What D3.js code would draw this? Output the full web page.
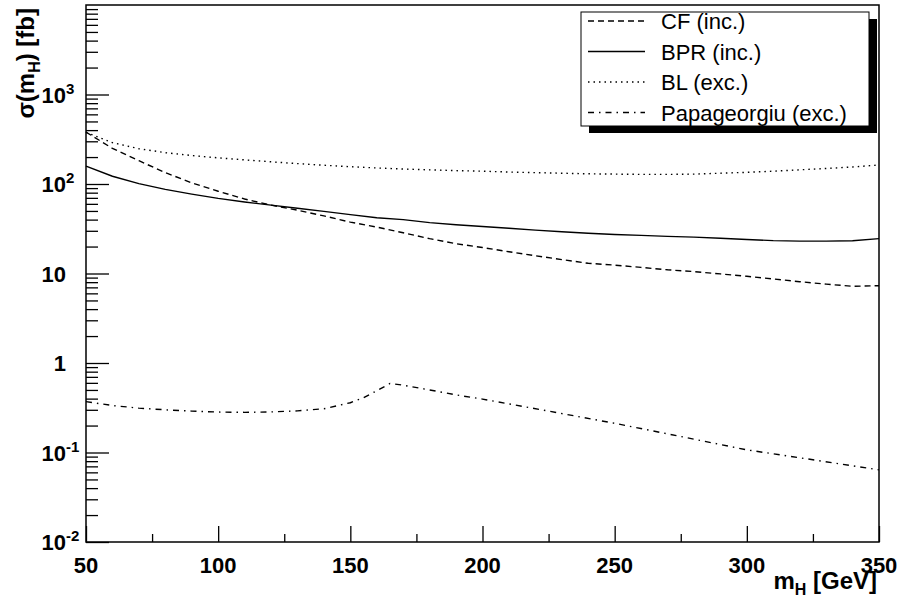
<!DOCTYPE html>
<html>
<head>
<meta charset="utf-8">
<script src="https://cdn.jsdelivr.net/npm/d3@7"></script>
<style>
  body { margin: 0; background: #fff; }
  text { font-family: "Liberation Sans", Arial, sans-serif; }
</style>
</head>
<body>
<div id="chart-area"></div>
<script>

//**************** Data *****************//

let mass = [50, 60, 70, 80, 90, 100, 110, 120, 130, 140, 150, 160, 170, 180, 190, 200,
	210, 220, 230, 240, 250, 260, 270, 280, 290, 300, 310, 320, 330, 340, 350];

let cfInc = [380, 250, 182, 134, 103, 83, 68, 58, 51, 44, 37.5, 33, 28.5, 24.5, 21.5, 19.5,
	17.5, 15.8, 14.3, 13.0, 12.4, 11.7, 11.0, 10.5, 9.9, 9.3, 8.7, 8.1, 7.6, 7.2, 7.3];

let bprInc = [158, 122, 101, 87, 77, 69, 63, 58, 53.5, 49.5, 45.5, 42, 40, 37, 35, 33.5,
	32, 30.5, 29.3, 28.2, 27.3, 26.7, 26, 25.5, 24.8, 24, 23.3, 23, 23, 23.2, 24.5];

let blExc = [378, 290, 248, 224, 208, 196, 186, 177, 169, 162, 156, 151, 147, 144, 141, 139,
	136, 134, 132, 130, 129, 128, 128, 129, 132, 135, 139, 144, 149, 155, 163];

let papaMass = [50, 60, 70, 80, 90, 100, 110, 120, 130, 140, 150, 155, 160, 165, 170, 180,
	190, 200, 225, 250, 275, 300, 325, 350];
let papaExc = [0.37, 0.335, 0.313, 0.3, 0.29, 0.283, 0.281, 0.284, 0.292, 0.308, 0.36, 0.41,
	0.49, 0.59, 0.565, 0.5, 0.44, 0.395, 0.29, 0.212, 0.151, 0.107, 0.083, 0.064];

let seriesNames = ['CF (inc.)', 'BPR (inc.)', 'BL (exc.)', 'Papageorgiu (exc.)'];
let xTickValues = [50, 100, 150, 200, 250, 300, 350];
let yExponents = [-2, -1, 0, 1, 2, 3];


//**************** Canvas *****************//

let W = 902, H = 598;
let frame = { left: 86, right: 879, top: 5, bottom: 542 };

let svg = d3.select('#chart-area').append('svg')
	.attr('width', W)
	.attr('height', H);


//**************** Scales & Axes *****************//

let x = d3.scaleLinear()
	.domain([50, 350])
	.range([frame.left, frame.right]);

let y = d3.scaleLog()
	.domain([0.01, 10000])
	.range([frame.bottom, frame.top]);

// X axis ticks (inward)
let xMinor = d3.range(75, 350, 50);
svg.append('g')
	.attr('transform', 'translate(0, ' + frame.bottom + ')')
	.call(d3.axisBottom(x).tickValues(xTickValues).tickSize(-16).tickFormat(''))
	.call(g => g.select('.domain').remove())
	.selectAll('line').attr('stroke', '#000').attr('stroke-width', 1.3);

svg.append('g')
	.attr('transform', 'translate(0, ' + frame.bottom + ')')
	.call(d3.axisBottom(x).tickValues(xMinor).tickSize(-8).tickFormat(''))
	.call(g => g.select('.domain').remove())
	.selectAll('line').attr('stroke', '#000').attr('stroke-width', 1.3);

// Y axis ticks (inward)
let yMajor = yExponents.map(e => Math.pow(10, e));
let yMinor = [];
for (let e = -2; e <= 3; e++) {
	for (let m = 2; m <= 9; m++) yMinor.push(m * Math.pow(10, e));
}

svg.append('g')
	.attr('transform', 'translate(' + frame.left + ', 0)')
	.call(d3.axisLeft(y).tickValues(yMajor).tickSize(-23).tickFormat(''))
	.call(g => g.select('.domain').remove())
	.selectAll('line').attr('stroke', '#000').attr('stroke-width', 1.3);

svg.append('g')
	.attr('transform', 'translate(' + frame.left + ', 0)')
	.call(d3.axisLeft(y).tickValues(yMinor).tickSize(-12).tickFormat(''))
	.call(g => g.select('.domain').remove())
	.selectAll('line').attr('stroke', '#000').attr('stroke-width', 1.3);

// frame
svg.append('rect')
	.attr('x', frame.left)
	.attr('y', frame.top)
	.attr('width', frame.right - frame.left)
	.attr('height', frame.bottom - frame.top)
	.attr('fill', 'none')
	.attr('stroke', '#000')
	.attr('stroke-width', 1.5);


//**************** Labels *****************//

svg.selectAll('.x-label')
	.data(xTickValues)
	.enter().append('text')
	.attr('class', 'x-label')
	.attr('x', d => x(d))
	.attr('y', 573)
	.attr('text-anchor', 'middle')
	.attr('font-size', '22px')
	.attr('font-weight', 'bold')
	.text(d => d);

let yLabels = svg.selectAll('.y-label')
	.data(yExponents)
	.enter().append('text')
	.attr('class', 'y-label')
	.attr('x', 66)
	.attr('y', d => y(Math.pow(10, d)) + 8)
	.attr('font-size', '22px')
	.attr('font-weight', 'bold');

yLabels.each(function(e) {
	let t = d3.select(this);
	if (e === 0) {
		t.attr('text-anchor', 'end').text('1');
	} else if (e === 1) {
		t.attr('text-anchor', 'end').text('10');
	} else {
		// "10" ends at x=66, exponent hangs to the right
		t.attr('x', 66 - 24.5);
		t.append('tspan').text('10');
		t.append('tspan')
			.attr('font-size', '15px')
			.attr('dy', -9)
			.text(e);
	}
});

// x title
let xTitle = svg.append('text')
	.attr('x', 877)
	.attr('y', 589)
	.attr('text-anchor', 'end')
	.attr('font-size', '24px')
	.attr('font-weight', 'bold');
xTitle.append('tspan').text('m');
xTitle.append('tspan').attr('font-size', '16px').attr('dy', 6).text('H');
xTitle.append('tspan').attr('dy', -6).text(' [GeV]');

// y title
let yTitle = svg.append('text')
	.attr('transform', 'translate(34, 8) rotate(-90)')
	.attr('text-anchor', 'end')
	.attr('font-size', '24px')
	.attr('font-weight', 'bold');
yTitle.append('tspan').text('σ(m');
yTitle.append('tspan').attr('font-size', '16px').attr('dy', 6).text('H');
yTitle.append('tspan').attr('dy', -6).text(') [fb]');


//**************** Curves *****************//

let styles = [
	{ dash: '6 4' },
	{ dash: null },
	{ dash: '1.5 4' },
	{ dash: '6 5 1.5 5' }
];

let series = [
	mass.map((m, i) => [m, cfInc[i]]),
	mass.map((m, i) => [m, bprInc[i]]),
	mass.map((m, i) => [m, blExc[i]]),
	papaMass.map((m, i) => [m, papaExc[i]])
];

let line = d3.line()
	.x(d => x(d[0]))
	.y(d => y(d[1]));

svg.append('g')
	.selectAll('path')
	.data(series)
	.enter().append('path')
	.attr('d', line)
	.attr('fill', 'none')
	.attr('stroke', '#000')
	.attr('stroke-width', 1.4)
	.attr('stroke-dasharray', (d, i) => styles[i].dash);


//**************** Legend *****************//

let leg = { x: 581, y: 12, w: 288, h: 114, sx: 8, sy: 7 };

svg.append('rect')
	.attr('x', leg.x + leg.sx)
	.attr('y', leg.y + leg.sy)
	.attr('width', leg.w)
	.attr('height', leg.h)
	.attr('fill', '#000');

svg.append('rect')
	.attr('x', leg.x)
	.attr('y', leg.y)
	.attr('width', leg.w)
	.attr('height', leg.h)
	.attr('fill', '#fff')
	.attr('stroke', '#000')
	.attr('stroke-width', 1);

let rows = svg.append('g').selectAll('g')
	.data(seriesNames)
	.enter().append('g')
	.attr('transform', (d, i) => 'translate(0, ' + (29 + i * 30.5) + ')');

rows.append('line')
	.attr('x1', 588)
	.attr('x2', 645)
	.attr('y1', -8)
	.attr('y2', -8)
	.attr('stroke', '#000')
	.attr('stroke-width', 1.4)
	.attr('stroke-dasharray', (d, i) => styles[i].dash);

rows.append('text')
	.attr('x', 661)
	.attr('y', 0)
	.attr('font-size', '22px')
	.text(d => d);

</script>
</body>
</html>
